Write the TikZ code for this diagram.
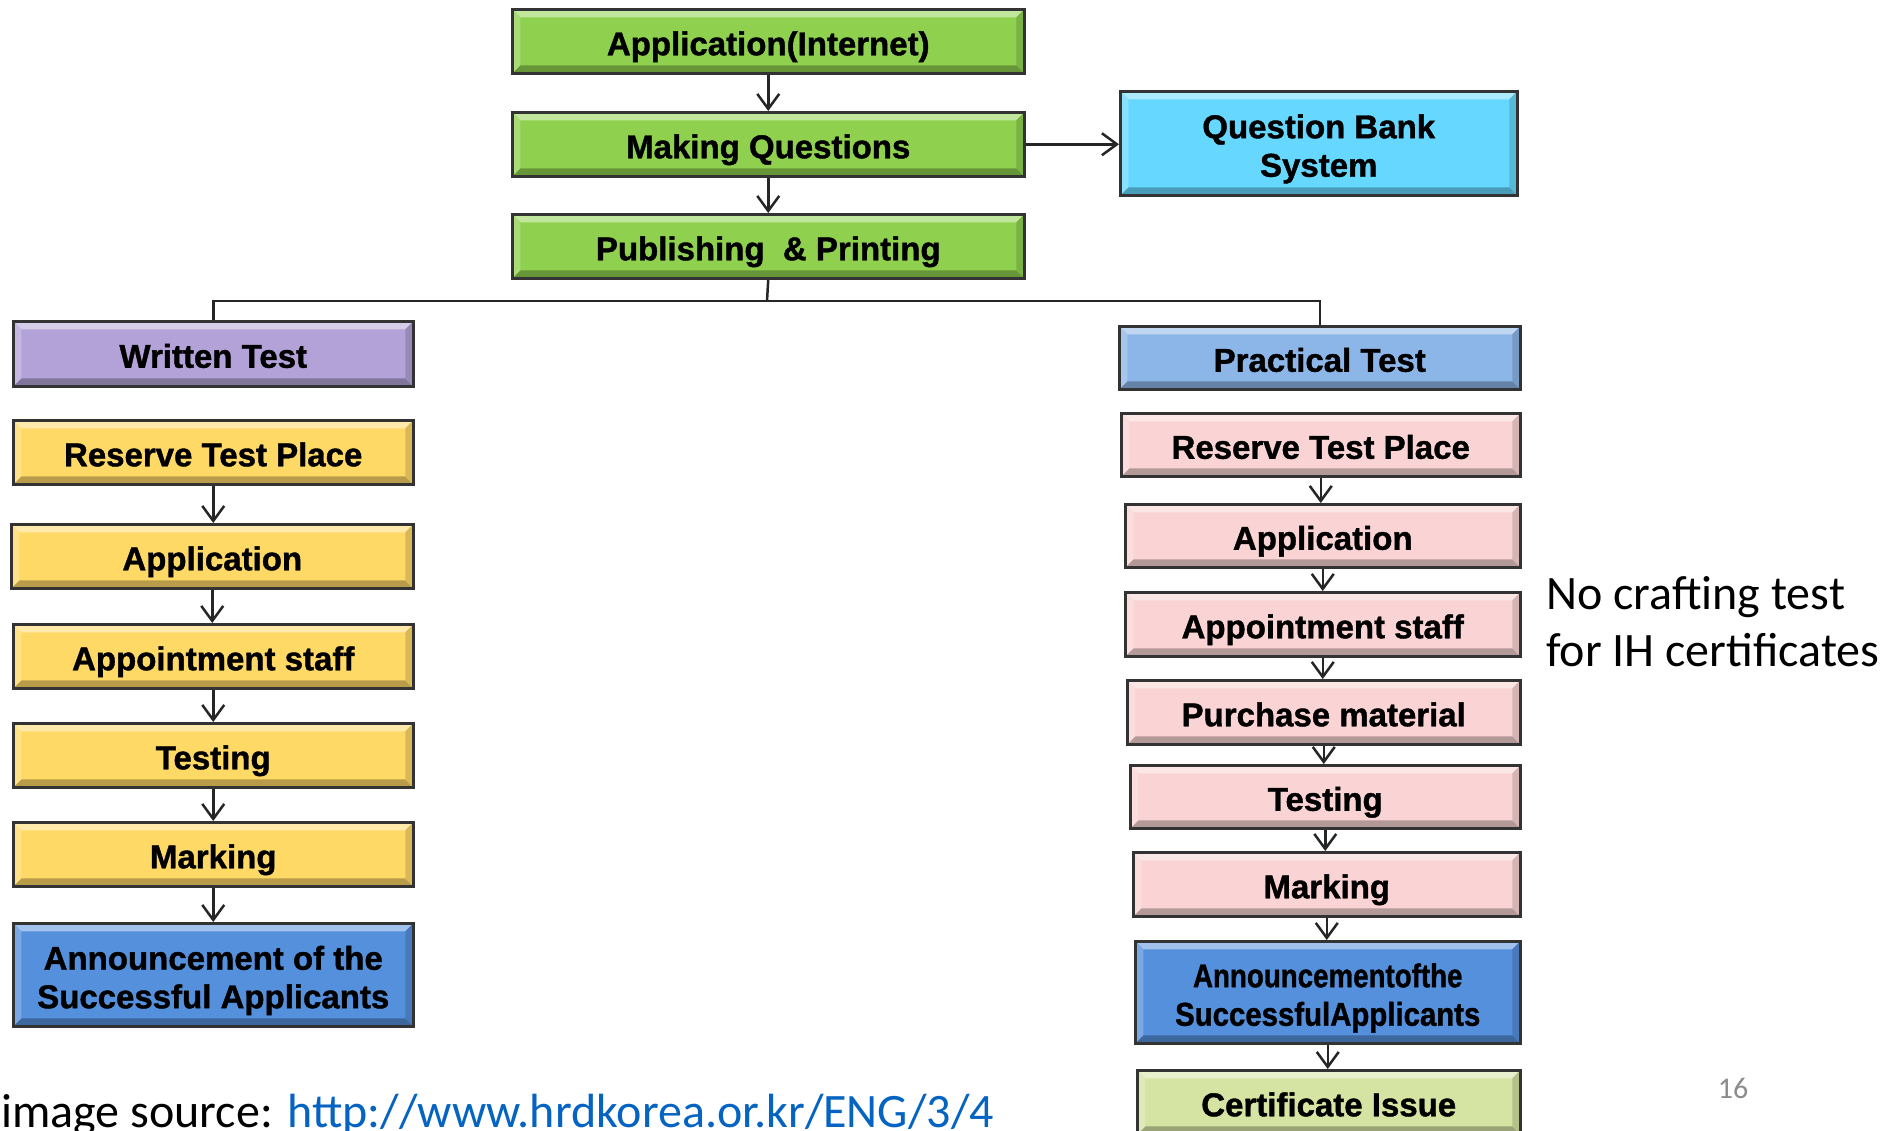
\documentclass[tikz,border=0pt]{standalone}
\usepackage{fontspec}
\usepackage{graphicx}
\setmainfont{Carlito}
\newfontfamily\boxfont[BoldFeatures={FakeBold=1.2}]{Liberation Sans}
\usetikzlibrary{arrows.meta,calc}
\definecolor{cgreen}{HTML}{8FD14F}
\definecolor{ccyan}{HTML}{66D8FF}
\definecolor{cpurple}{HTML}{B3A2D8}
\definecolor{cyellow}{HTML}{FFD966}
\definecolor{cblue}{HTML}{5590DC}
\definecolor{cltblue}{HTML}{8DB6E8}
\definecolor{cpink}{HTML}{FAD4D4}
\definecolor{clgreen}{HTML}{D5E3A3}
\definecolor{linkblue}{HTML}{0563C1}
\definecolor{pagenum}{HTML}{8C8C8C}
\newcommand\bevelpic[1]{%
  \path (path picture bounding box.north west) coordinate (bNW)
        (path picture bounding box.north east) coordinate (bNE)
        (path picture bounding box.south west) coordinate (bSW)
        (path picture bounding box.south east) coordinate (bSE);
  \fill[#1!55!white] (bNW) -- (bNE) -- ([shift={(-8pt,-8pt)}]bNE) -- ([shift={(8pt,-8pt)}]bNW) -- cycle;
  \fill[#1!72!black] (bSW) -- (bSE) -- ([shift={(-8pt,8pt)}]bSE) -- ([shift={(8pt,8pt)}]bSW) -- cycle;
  \fill[#1!78!white] (bNW) -- ([shift={(8pt,-8pt)}]bNW) -- ([shift={(8pt,8pt)}]bSW) -- (bSW) -- cycle;
  \fill[#1!85!black] (bNE) -- ([shift={(-8pt,-8pt)}]bNE) -- ([shift={(-8pt,8pt)}]bSE) -- (bSE) -- cycle;
}
\newcommand\twol[2]{\begin{tabular}{@{}c@{}}\rule{0pt}{40pt}#1\\#2\end{tabular}}
\tikzset{
  bx/.style={draw=black!80, line width=2.5pt, inner sep=0pt,
    anchor=north west, fill=#1, path picture={\bevelpic{#1}},
    font=\boxfont\bfseries\fontsize{33}{38.5}\selectfont},
  one/.style={bx=#1, text height=36pt, text depth=8pt},
  two/.style={bx=#1},
  conn/.style={draw=black!85, line width=2.5pt},
  arr/.style={conn, -{Straight Barb[length=15pt,width=22pt]}},
  note/.style={inner sep=0pt, anchor=base west, font=\fontsize{48}{57}\selectfont}
}
\begin{document}
\begin{tikzpicture}[x=1pt,y=-1pt]
\useasboundingbox (0,0) rectangle (1887,1130);
\clip (0,0) rectangle (1887,1130);
\fill[white] (0,0) rectangle (1887,1130);
% top column
\node[one=cgreen, minimum width=512, minimum height=64] (app) at (511,8) {Application(Internet)};
\node[one=cgreen, minimum width=512, minimum height=64] (mq) at (511,111) {Making Questions};
\node[one=cgreen, minimum width=512, minimum height=64] (pp) at (511,213) {Publishing \ \& Printing};
\node[two=ccyan, minimum width=397, minimum height=104] (qbs) at (1119,90) {\twol{Question Bank}{System}};
% left column
\node[one=cpurple, minimum width=400, minimum height=65] (wt) at (12,320) {Written Test};
\node[one=cyellow, minimum width=400, minimum height=64] (l1) at (12,419) {Reserve Test Place};
\node[one=cyellow, minimum width=402, minimum height=64] (l2) at (10,523) {Application};
\node[one=cyellow, minimum width=400, minimum height=64] (l3) at (12,623) {Appointment staff};
\node[one=cyellow, minimum width=400, minimum height=64] (l4) at (12,722) {Testing};
\node[one=cyellow, minimum width=400, minimum height=64] (l5) at (12,821) {Marking};
\node[two=cblue, minimum width=400, minimum height=103] (l6) at (12,922) {\twol{Announcement of the}{Successful Applicants}};
% right column
\node[one=cltblue, minimum width=401, minimum height=63] (pt) at (1118,325) {Practical Test};
\node[one=cpink, minimum width=399, minimum height=63] (r1) at (1120,412) {Reserve Test Place};
\node[one=cpink, minimum width=395, minimum height=63] (r2) at (1124,503) {Application};
\node[one=cpink, minimum width=395, minimum height=64] (r3) at (1124,591) {Appointment staff};
\node[one=cpink, minimum width=393, minimum height=64] (r4) at (1126,679) {Purchase material};
\node[one=cpink, minimum width=390, minimum height=63] (r5) at (1129,764) {Testing};
\node[one=cpink, minimum width=387, minimum height=64] (r6) at (1132,851) {Marking};
\node[two=cblue, minimum width=385, minimum height=102] (r7) at (1134,940) {\twol{\scalebox{0.84}[1]{Announcementofthe}}{\scalebox{0.89}[1]{SuccessfulApplicants}}};
\node[one=clgreen, minimum width=383, minimum height=64] (r8) at (1136,1069) {Certificate Issue};
% connectors
\coordinate (bj) at (767,301);
\draw[arr] (app.south) -- (mq.north);
\draw[arr] (mq.south) -- (pp.north);
\draw[arr] (mq.east) -- (qbs.west |- mq.east);
\draw[conn] (pp.south) -- (bj);
\draw[conn] (wt.north) |- (bj) -| (pt.north);
\foreach \a/\b in {l1/l2,l2/l3,l3/l4,l4/l5,l5/l6,r1/r2,r2/r3,r3/r4,r4/r5,r5/r6,r6/r7,r7/r8}
  \draw[arr] (\a.south) -- (\a.south |- \b.north);
% texts
\node[note] (n1) at (1546,609) {No crafting test};
\node[note] (n2) at (1546,666) {for IH certificates};
\node[inner sep=0pt, anchor=base, text=pagenum, font=\fontsize{30}{32}\selectfont] (pg) at (1733,1098) {16};
\node[note] (src) at (1,1127) {image source: \textcolor{linkblue}{http://www.hrdkorea.or.kr/ENG/3/4}};
\end{tikzpicture}
\end{document}
